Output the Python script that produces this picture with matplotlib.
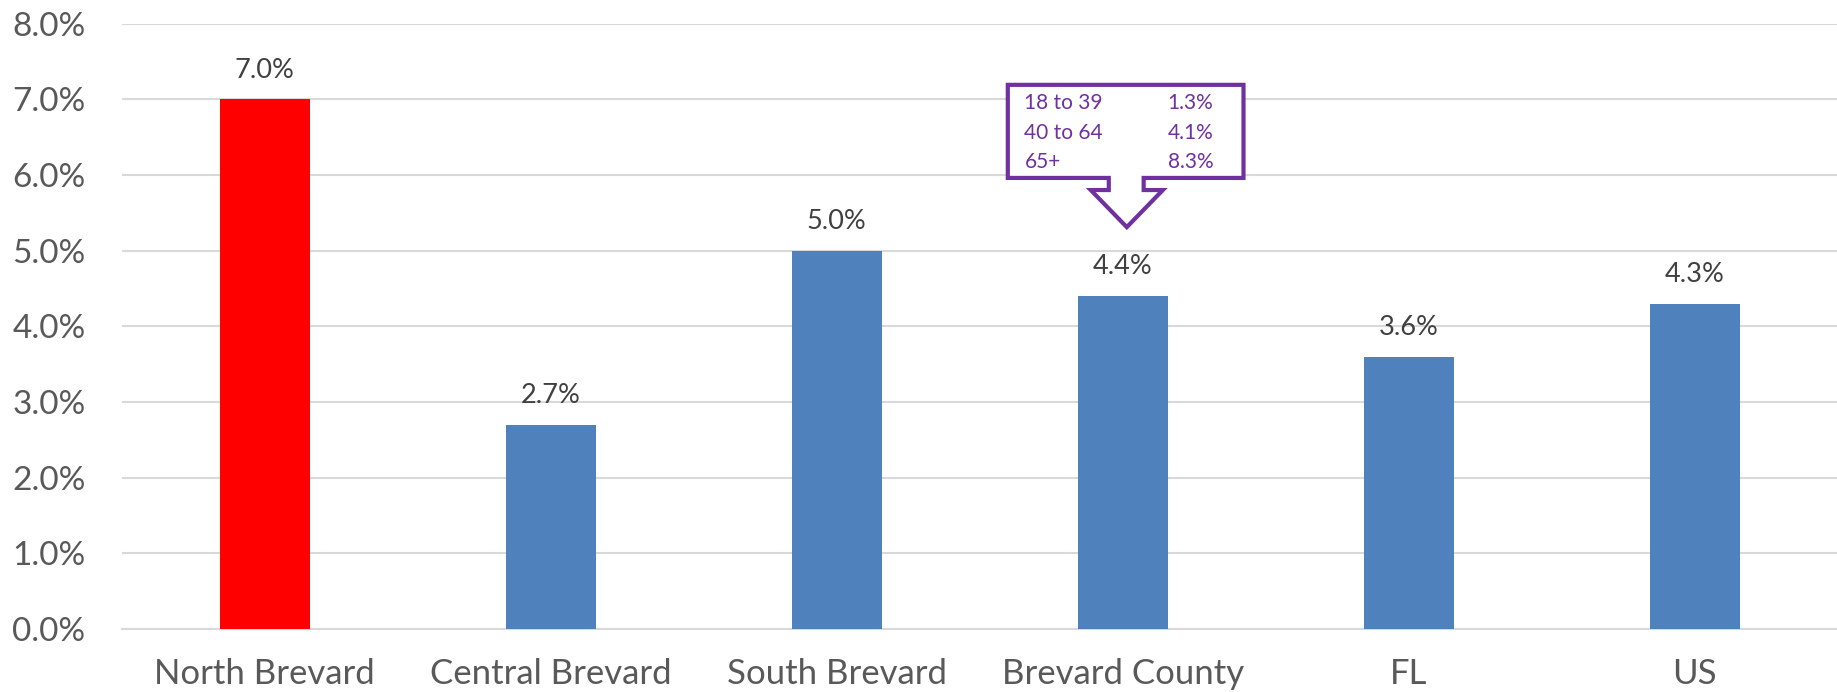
import matplotlib
matplotlib.use("Agg")
import matplotlib.pyplot as plt
from matplotlib.patches import Polygon
from matplotlib.ticker import FuncFormatter

plt.rcParams['font.family'] = ['Lato', 'DejaVu Sans']

# 데이터
regions = ["North Brevard", "Central Brevard", "South Brevard", "Brevard County", "FL", "US"]
rates = [7.0, 2.7, 5.0, 4.4, 3.6, 4.3]
bar_colors = ["#FF0000", "#4F81BD", "#4F81BD", "#4F81BD", "#4F81BD", "#4F81BD"]

age_groups = ["18 to 39", "40 to 64", "65+"]
age_rates = [1.3, 4.1, 8.3]

fig = plt.figure(figsize=(18.37, 6.92), dpi=100)
ax = fig.add_axes([0.0662, 0.091, 0.9343, 0.875])

x = range(len(regions))
bars = ax.bar(x, rates, width=0.315, color=bar_colors, zorder=3)

for bar, v in zip(bars, rates):
    ax.annotate(f"{v:.1f}%", (bar.get_x() + bar.get_width() / 2, v),
                xytext=(0, 12), textcoords="offset points",
                ha='center', va='bottom', fontsize=19.5, color="#404040")

ax.set_xlim(-0.5, len(regions) - 0.5)
ax.set_ylim(0, 8)
ax.set_yticks(range(0, 9))
ax.yaxis.set_major_formatter(FuncFormatter(lambda y, _: f"{y:.1f}%"))
ax.set_xticks(list(x))
ax.set_xticklabels(regions)
ax.tick_params(axis='y', length=0, pad=26, labelsize=24, labelcolor="#595959")
ax.tick_params(axis='x', length=0, pad=21, labelsize=25, labelcolor="#595959")
ax.grid(axis='y', color="#D9D9D9", linewidth=1.5, zorder=0)
for s in ["top", "right", "left"]:
    ax.spines[s].set_visible(False)
ax.spines["bottom"].set_color("#D9D9D9")
ax.spines["bottom"].set_linewidth(1.5)

# 연령대별 말풍선 (Brevard County 위)
purple = "#7030A0"
callout = [(2.598, 7.19), (3.422, 7.19), (3.422, 5.96), (3.073, 5.96), (3.073, 5.80),
           (3.140, 5.80), (3.014, 5.31), (2.888, 5.80), (2.951, 5.80), (2.951, 5.96),
           (2.598, 5.96)]
ax.add_patch(Polygon(callout, closed=True, facecolor="white", edgecolor=purple,
                     linewidth=3, zorder=5, joinstyle='miter'))
row_y = [6.95, 6.56, 6.17]
for yy, g, r in zip(row_y, age_groups, age_rates):
    ax.text(2.656, yy, g, ha='left', va='center', fontsize=15, color=purple, zorder=6)
    ax.text(3.316, yy, f"{r:.1f}%", ha='right', va='center', fontsize=15, color=purple, zorder=6)

fig.savefig("out.png", dpi=100)
